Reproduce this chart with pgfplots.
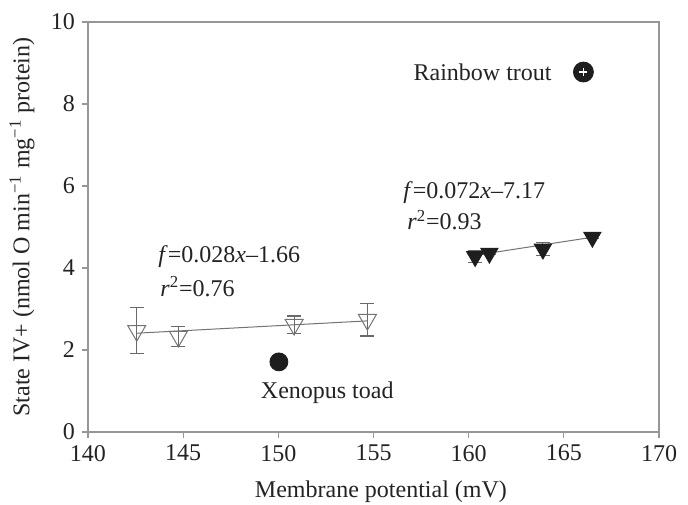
\documentclass[border=0pt]{standalone}
\usepackage{fontspec}
\setmainfont{Liberation Serif}
\usepackage{pgfplots}
\pgfplotsset{compat=1.18}

\definecolor{axisgray}{RGB}{150,150,150}
\definecolor{opengray}{RGB}{115,115,115}
\definecolor{bargray}{RGB}{105,105,105}
\definecolor{darkmark}{RGB}{30,30,30}
\definecolor{txt}{RGB}{35,35,35}

\begin{document}
\begin{tikzpicture}[font=\fontsize{12bp}{14bp}\selectfont]
\begin{axis}[
  scale only axis,
  width=285.5bp, height=205bp,
  xmin=140, xmax=170, ymin=0, ymax=10,
  xtick={140,145,...,170}, ytick={0,2,...,10},
  axis line style={axisgray, line width=0.75bp},
  tick style={axisgray, line width=0.6bp},
  tick align=outside, major tick length=3bp,
  xtick pos=bottom, ytick pos=left,
  /pgf/number format/assume math mode=true,
  tick label style={font=\fontsize{12bp}{14bp}\selectfont, text=txt},
  xlabel={Membrane potential (mV)},
  ylabel={State IV+ (nmol O min\textsuperscript{−1} mg\textsuperscript{−1} protein)},
  xlabel style={at={(axis description cs:0.513,-0.146)}, anchor=center, text=txt},
  ylabel style={at={(axis description cs:-0.1156,0.5)}, anchor=center, rotate=0, text=txt},
  clip=false,
]
  \coordinate (bl) at (rel axis cs:0,0);
  \coordinate (tr) at (rel axis cs:1,1);

  % regression line, 142-155 mV group
  \addplot[opengray, line width=0.5bp, no marks] coordinates {(142.56,2.41) (154.68,2.71)};
  % regression line, 160-167 mV group
  \addplot[opengray, line width=0.5bp, no marks] coordinates {(160.34,4.31) (166.50,4.75)};

  % open triangles with error bars
  \addplot[only marks, mark=triangle, mark options={rotate=180, draw=opengray, line width=0.5bp}, mark size=5.2bp,
    error bars/.cd, y dir=both, y explicit,
    error bar style={bargray, line width=0.6bp},
    error mark options={rotate=90, bargray, mark size=3.5bp, line width=0.6bp}]
    coordinates {
      (142.56,2.47) +- (0,0.565)
      (144.75,2.33) +- (0,0.245)
      (150.83,2.62) +- (0,0.21)
      (154.68,2.74) +- (0,0.40)
    };

  % filled triangles with error bars
  \addplot[only marks, mark=triangle*, mark options={rotate=180, draw=darkmark, fill=darkmark}, mark size=5bp,
    error bars/.cd, y dir=both, y explicit,
    error bar style={bargray, line width=0.6bp},
    error mark options={rotate=90, bargray, mark size=3.5bp, line width=0.6bp}]
    coordinates {
      (160.34,4.28) +- (0,0.15)
      (161.09,4.36) +- (0,0.04)
      (163.90,4.46) +- (0,0.16)
      (166.50,4.75) +- (0,0.04)
    };

  % Xenopus toad
  \addplot[only marks, mark=*, mark options={draw=darkmark, fill=darkmark}, mark size=4.5bp]
    coordinates {(150.03,1.71)};
  % Rainbow trout
  \addplot[only marks, mark=*, mark options={draw=darkmark, fill=darkmark}, mark size=5bp]
    coordinates {(166.03,8.78)};
  \addplot[only marks, mark=+, mark options={draw=white, line width=0.8bp}, mark size=2bp]
    coordinates {(166.03,8.78)};

  \node[anchor=east, text=txt, inner sep=0pt] at (axis cs:164.38,8.78) {Rainbow trout};
  \node[anchor=center, text=txt, inner sep=0pt] at (axis cs:152.57,0.95) {Xenopus toad};
  \node[anchor=west, text=txt, inner sep=0pt] at (axis cs:143.68,4.27) {\textit{f}=0.028\textit{x}–1.66};
  \node[anchor=west, text=txt, inner sep=0pt] at (axis cs:143.78,3.54) {\textit{r}\textsuperscript{2}=0.76};
  \node[anchor=west, text=txt, inner sep=0pt] at (axis cs:156.55,5.85) {\textit{f}=0.072\textit{x}–7.17};
  \node[anchor=west, text=txt, inner sep=0pt] at (axis cs:156.76,5.17) {\textit{r}\textsuperscript{2}=0.93};
\end{axis}
\pgfresetboundingbox
\path ([shift={(-44bp,-36.5bp)}]bl) rectangle ([shift={(14.5bp,11bp)}]tr);
\end{tikzpicture}
\end{document}
